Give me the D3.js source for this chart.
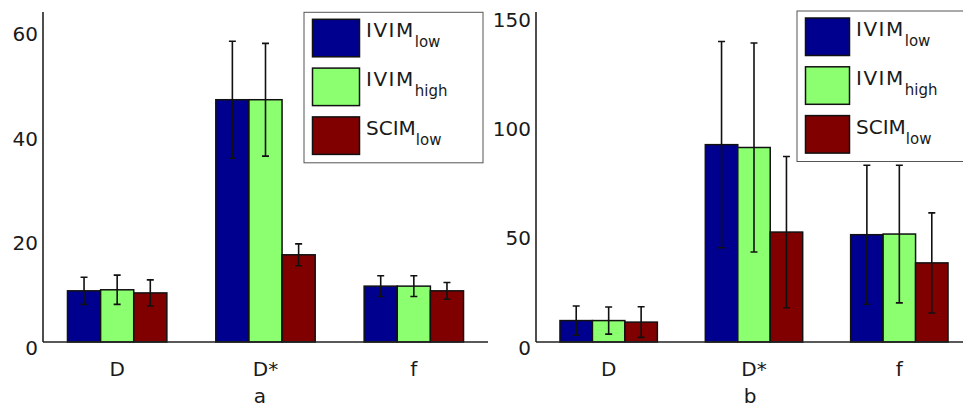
<!DOCTYPE html>
<html>
<head>
<script src="https://d3js.org/d3.v7.min.js"></script>
<style>
  body { margin: 0; background: #fff; }
  text { font-family: "DejaVu Sans", "Liberation Sans", Arial, sans-serif; fill: #1a1a1a; }
  .axis-line { stroke: #222; stroke-width: 1.6px; fill: none; }
  .bar { stroke: #111; stroke-width: 1.5px; }
  .err { stroke: #111; stroke-width: 1.6px; fill: none; }
  .legend-box { fill: #fff; stroke: #555; stroke-width: 1px; }
</style>
</head>
<body>
<script>
// categories and series
var categories = ["D", "D*", "f"];
var seriesMain = ["IVIM", "IVIM", "SCIM"];
var seriesSub = ["low", "high", "low"];
var seriesColors = ["#00008f", "#8cff70", "#800000"];

// panel a: mean and error per series (rows) per category (cols)
var meansA = [[9.8, 46.4, 10.7], [10.0, 46.4, 10.7], [9.4, 16.7, 9.8]];
var errA   = [[2.6, 11.2, 2.0], [2.8, 10.8, 2.0], [2.5, 2.1, 1.6]];
var ticksA = [0, 20, 40, 60];

// panel b
var meansB = [[9.8, 90.3, 49.1], [9.8, 89.0, 49.4], [9.1, 50.3, 36.2]];
var errB   = [[6.7, 47.2, 31.8], [6.2, 47.8, 31.5], [7.0, 34.6, 22.9]];
var ticksB = [0, 50, 100, 150];

var panelLetters = ["a", "b"];

var W = 963, H = 410;
var svg = d3.select("body").append("svg")
    .attr("width", W).attr("height", H);

function drawPanel(cfg) {
  var g = svg.append("g");

  var x = d3.scaleBand()
      .domain(categories)
      .range([cfg.x0, cfg.x1])
      .paddingInner(0.33)
      .paddingOuter(0.165);
  var xs = d3.scaleBand()
      .domain(d3.range(seriesMain.length))
      .range([0, x.bandwidth()]);
  var y = d3.scaleLinear()
      .domain([0, cfg.ymax])
      .range([cfg.base, cfg.top]);

  var rows = [];
  cfg.means.forEach(function(arr, s) {
    arr.forEach(function(v, c) {
      rows.push({s: s, c: categories[c], v: v, e: cfg.errs[s][c]});
    });
  });

  g.selectAll("rect.bar").data(rows).enter().append("rect")
      .attr("class", "bar")
      .attr("x", function(d) { return x(d.c) + xs(d.s); })
      .attr("width", xs.bandwidth())
      .attr("y", function(d) { return y(d.v); })
      .attr("height", function(d) { return y(0) - y(d.v); })
      .attr("fill", function(d) { return seriesColors[d.s]; });

  // error bars
  var cap = 3.5;
  var eb = g.selectAll("g.eb").data(rows).enter().append("g").attr("class", "eb");
  function cx(d) { return x(d.c) + xs(d.s) + xs.bandwidth() / 2; }
  eb.append("path").attr("class", "err")
      .attr("d", function(d) {
        var xc = cx(d), yt = y(d.v + d.e), yb = y(d.v - d.e);
        return "M" + xc + "," + yt + "V" + yb +
               "M" + (xc - cap) + "," + yt + "H" + (xc + cap) +
               "M" + (xc - cap) + "," + yb + "H" + (xc + cap);
      });

  // axes lines
  g.append("line").attr("class", "axis-line")
      .attr("x1", cfg.x0).attr("x2", cfg.x0)
      .attr("y1", cfg.top).attr("y2", cfg.base);
  g.append("line").attr("class", "axis-line")
      .attr("x1", cfg.x0).attr("x2", cfg.x1)
      .attr("y1", cfg.base).attr("y2", cfg.base);

  // y tick labels
  g.selectAll("text.yt").data(cfg.ticks).enter().append("text")
      .attr("class", "yt")
      .attr("x", cfg.x0 - 5)
      .attr("y", function(d) { return y(d) + 12.5; })
      .attr("text-anchor", "end")
      .style("font-size", "20px")
      .text(function(d) { return d; });

  // category labels
  g.selectAll("text.xt").data(categories).enter().append("text")
      .attr("class", "xt")
      .attr("x", function(d) { return x(d) + x.bandwidth() / 2; })
      .attr("y", 376)
      .attr("text-anchor", "middle")
      .style("font-size", "20px")
      .text(function(d) { return d; });

  // panel letter
  g.append("text")
      .attr("x", cfg.letterX).attr("y", 403)
      .attr("text-anchor", "middle")
      .style("font-size", "20px")
      .text(cfg.letter);

  // legend
  var lg = g.append("g").attr("transform", "translate(" + cfg.legX + "," + cfg.legY + ")");
  lg.append("rect").attr("class", "legend-box")
      .attr("width", 179).attr("height", 150.5);
  var item = lg.selectAll("g.item").data(seriesMain).enter().append("g")
      .attr("class", "item")
      .attr("transform", function(d, i) { return "translate(0," + (7 + i * 48.8) + ")"; });
  item.append("rect").attr("class", "bar")
      .attr("x", 8.5).attr("width", cfg.swW).attr("height", 37.5)
      .attr("fill", function(d, i) { return seriesColors[i]; });
  var t = item.append("text")
      .attr("x", cfg.swW + 15).attr("y", 18)
      .style("font-size", "20px");
  t.append("tspan").text(function(d) { return d; })
      .style("letter-spacing", function(d) { return d === "IVIM" ? "1.5px" : "0px"; });
  t.append("tspan").attr("dy", 10).style("font-size", "15px")
      .text(function(d, i) { return seriesSub[i]; });
}

drawPanel({x0: 43, x1: 488, top: 12, base: 342, ymax: 63.2,
           means: meansA, errs: errA, ticks: ticksA,
           letter: panelLetters[0], letterX: 260,
           legX: 304, legY: 12.3, swW: 47});
drawPanel({x0: 536, x1: 972, top: 12, base: 342, ymax: 151,
           means: meansB, errs: errB, ticks: ticksB,
           letter: panelLetters[1], letterX: 750,
           legX: 797, legY: 11, swW: 44});
</script>
</body>
</html>
